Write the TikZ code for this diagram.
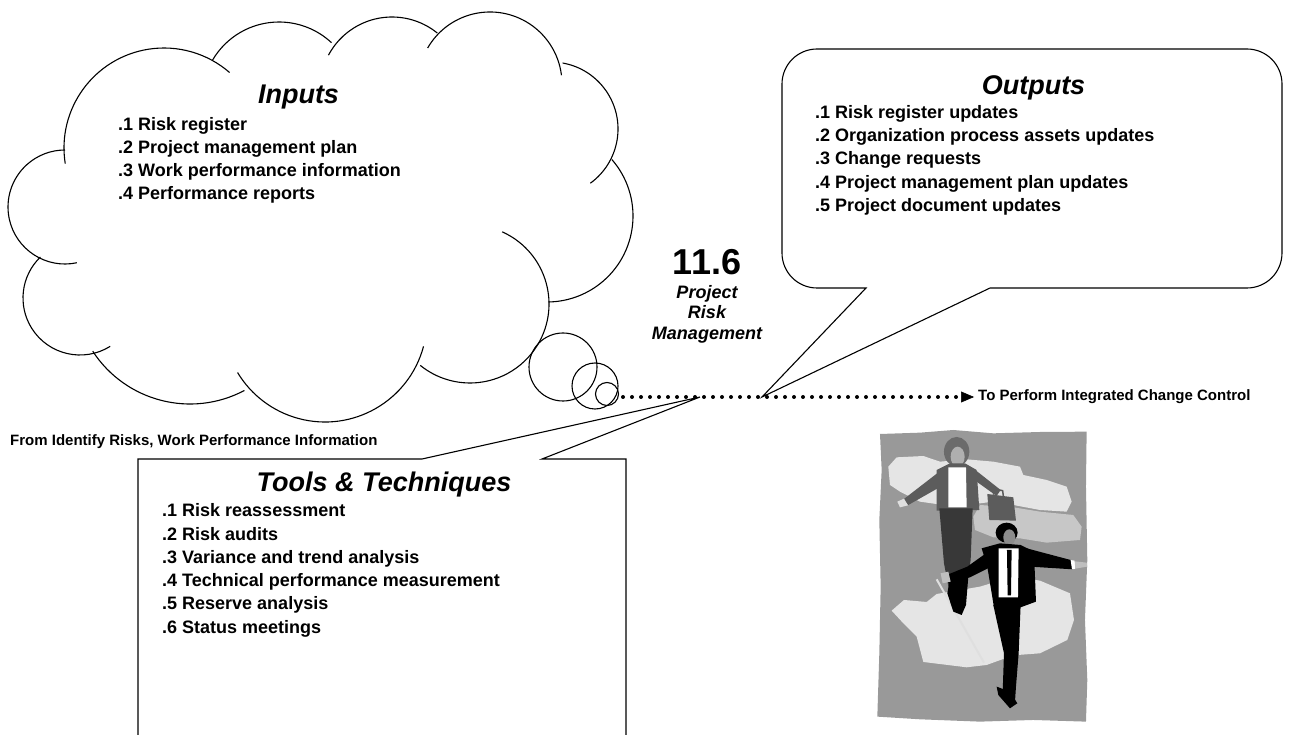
\documentclass[tikz,border=0pt]{standalone}
\usepackage{fontspec}
\setmainfont{Liberation Sans}
\usetikzlibrary{arrows.meta}

\definecolor{artbg}{gray}{0.60}
\definecolor{artlight}{gray}{0.90}
\definecolor{artmid}{gray}{0.78}
\definecolor{artdark}{gray}{0.42}
\definecolor{artjacket}{gray}{0.36}
\definecolor{artskirt}{gray}{0.22}
\definecolor{artskin}{gray}{0.55}

% one lobe of the cloud: centre x, centre y (downwards), radius, start and end angle
\newcommand{\cloudlobe}[5]{%
  \draw[cloudline] ([shift={(#4:#3)}] #1,-#2) arc[start angle=#4, end angle=#5, radius=#3];}

\begin{document}
\begin{tikzpicture}[x=1pt, y=1pt,
  outline/.style={draw=black, line width=1.1pt},
  cloudline/.style={draw=black, line width=1.1pt},
  bubble/.style={circle, draw=black, line width=1.1pt, inner sep=0pt},
  listtext/.style={anchor=north west, inner sep=0pt, align=left,
                   font=\fontsize{18}{23.3}\selectfont\bfseries},
  heading/.style={anchor=base, inner sep=0pt,
                  font=\fontsize{27}{32}\selectfont\bfseries\itshape},
  smallnote/.style={inner sep=0pt, font=\fontsize{15}{18}\selectfont\bfseries},
  dotline/.style={line width=4pt, line cap=round, dash pattern=on 0pt off 9pt},
]
\useasboundingbox (0,0) rectangle (1302,-735);

% ---------- clip art: two people on a tightrope ----------
\begin{scope}[shift={(780,-420)}, x=0.3333pt, y=-0.3333pt]
  \fill[artbg] (300,42) -- (420,38) -- (520,30) -- (640,40) -- (780,36) -- (920,35)
    -- (918,200) -- (922,420) -- (915,600) -- (922,780) -- (918,905) -- (760,900)
    -- (600,905) -- (420,898) -- (292,890) -- (298,700) -- (302,500) -- (298,300)
    -- (305,150) -- cycle;
  \fill[artlight] (325,140) -- (350,112) -- (430,108) -- (480,125) -- (560,118)
    -- (640,125) -- (720,140) -- (730,165) -- (800,180) -- (860,200) -- (875,245)
    -- (860,275) -- (780,270) -- (700,255) -- (640,245) -- (600,250) -- (560,240)
    -- (490,255) -- (420,245) -- (360,215) -- (330,195) -- cycle;
  \fill[artmid] (600,255) -- (700,262) -- (780,275) -- (880,285) -- (905,320)
    -- (900,360) -- (800,368) -- (720,355) -- (640,352) -- (585,330) -- (580,290) -- cycle;
  \fill[artlight] (335,572) -- (372,540) -- (440,546) -- (470,522) -- (600,500)
    -- (700,470) -- (780,482) -- (870,520) -- (882,600) -- (862,660) -- (780,700)
    -- (700,706) -- (620,735) -- (560,742) -- (430,726) -- (410,650) -- (372,612) -- cycle;
  \draw[line width=2pt, gray!25] (470,478) -- (612,728);
  % woman
  \fill[artdark] (530,95) ellipse [x radius=12.7pt, y radius=14.7pt];
  \fill[artskin!70!white] (533,110) ellipse [x radius=7pt, y radius=10pt];
  \fill[artjacket] (470,150) -- (510,130) -- (555,130) -- (590,150) -- (598,270) -- (470,272) -- cycle;
  \fill[white] (505,142) -- (558,142) -- (560,262) -- (505,262) -- cycle;
  \fill[artjacket] (478,155) -- (482,200) -- (385,255) -- (368,240) -- cycle;
  \fill[gray!25] (352,245) -- (372,236) -- (384,256) -- (360,262) -- cycle;
  \fill[artjacket] (586,150) -- (662,210) -- (650,228) -- (590,185) -- cycle;
  \fill[artjacket] (622,222) -- (700,232) -- (708,302) -- (628,300) -- cycle;
  \draw[artjacket, line width=1.5pt] (640,224) -- (645,208) -- (668,212) -- (670,228);
  \fill[artskirt] (478,265) -- (578,265) -- (572,420) -- (560,500) -- (548,545)
    -- (512,535) -- (492,430) -- cycle;
  % man
  \fill[black] (680,338) ellipse [x radius=11pt, y radius=10pt];
  \fill[artskin] (688,352) ellipse [x radius=6pt, y radius=8pt];
  \fill[black] (605,385) -- (660,370) -- (722,375) -- (762,395) -- (768,545)
    -- (722,562) -- (642,562) -- (622,440) -- cycle;
  \fill[white] (656,385) -- (716,385) -- (714,532) -- (656,532) -- cycle;
  \fill[black] (681,390) -- (695,390) -- (693,526) -- (683,526) -- cycle;
  \fill[black] (740,385) -- (872,420) -- (878,448) -- (752,440) -- cycle;
  \fill[white] (872,420) -- (884,422) -- (886,446) -- (876,448) -- cycle;
  \fill[gray!50] (884,424) -- (920,428) -- (922,440) -- (886,446) -- cycle;
  \fill[black] (632,390) -- (650,432) -- (570,472) -- (505,490) -- (498,466) -- (562,440) -- cycle;
  \fill[gray!50] (482,460) -- (505,455) -- (512,485) -- (488,490) -- cycle;
  \fill[black] (508,488) -- (565,470) -- (558,555) -- (545,585) -- (520,575) -- (502,520) -- cycle;
  \fill[black] (640,555) -- (722,555) -- (716,700) -- (708,800) -- (705,845)
    -- (680,852) -- (668,820) -- (672,700) -- (652,610) -- cycle;
  \fill[black] (650,800) -- (690,815) -- (712,850) -- (690,865) -- (655,825) -- cycle;
\end{scope}

% ---------- Inputs cloud ----------
\cloudlobe{164}{148}{100}{189}{49}
\cloudlobe{279}{99}{77}{150}{47}
\cloudlobe{392}{89}{72}{152}{51}
\cloudlobe{490}{84}{72}{150}{7}
\cloudlobe{551}{129}{67}{80}{-54}
\cloudlobe{547}{216}{86}{41}{-89}
\cloudlobe{470}{304}{79}{66}{-129}
\cloudlobe{325}{320}{102}{-15}{-149}
\cloudlobe{190}{288}{116}{-62}{-147}
\cloudlobe{80}{298}{57}{-58}{-226}
\cloudlobe{65}{207}{57}{282}{90}

\node[bubble, minimum size=68pt] (bubA) at (563,-367) {};
\node[bubble, minimum size=46pt] (bubB) at (595,-386) {};
\node[bubble, minimum size=23pt] (bubC) at (607,-394) {};

\node[heading] (inputsT) at (298.5,-104) {Inputs};
\node[listtext] (inputsL) at (118,-116.8)
  {.1 Risk register\\.2 Project management plan\\.3 Work performance information\\.4 Performance reports};

% ---------- process name ----------
\node[anchor=base, inner sep=0pt, font=\fontsize{36}{40}\selectfont\bfseries] (pnum) at (707,-275) {11.6};
\node[anchor=north, inner sep=0pt, align=center,
      font=\fontsize{18}{20.5}\selectfont\bfseries\itshape] (pname) at (707,-285)
  {Project\\Risk\\Management};

% ---------- flow line ----------
\coordinate (dotstart) at (623,-397);
\coordinate (ttip) at (700,-397);
\coordinate (otip) at (762,-397);
\node[smallnote, anchor=west, inner sep=4pt] (icc) at (974,-397) {To Perform Integrated Change Control};
\draw[dotline, -{Triangle[length=13pt, width=11pt, line width=0.5pt]}] (dotstart) -- (icc.west);

\node[smallnote, anchor=base west] (fromnote) at (10,-445) {From Identify Risks, Work Performance Information};

% ---------- Outputs callout ----------
\draw[outline] (866,-288) -- (otip) -- (990,-288) -- (1247,-288)
  arc[start angle=-90, end angle=0, radius=35] -- (1282,-84)
  arc[start angle=0, end angle=90, radius=35] -- (817,-49)
  arc[start angle=90, end angle=180, radius=35] -- (782,-253)
  arc[start angle=180, end angle=270, radius=35] -- cycle;
\node[heading] (outputsT) at (1033.5,-95) {Outputs};
\node[listtext] (outputsL) at (815,-105)
  {.1 Risk register updates\\.2 Organization process assets updates\\.3 Change requests\\.4 Project management plan updates\\.5 Project document updates};

% ---------- Tools & Techniques callout ----------
\draw[outline] (422,-459) -- (ttip) -- (542,-459) -- (626,-459) -- (626,-760)
  -- (138,-760) -- (138,-459) -- cycle;
\node[heading] (toolsT) at (384,-491) {Tools \& Techniques};
\node[listtext] (toolsL) at (162,-503.5)
  {.1 Risk reassessment\\.2 Risk audits\\.3 Variance and trend analysis\\.4 Technical performance measurement\\.5 Reserve analysis\\.6 Status meetings};

\end{tikzpicture}
\end{document}
